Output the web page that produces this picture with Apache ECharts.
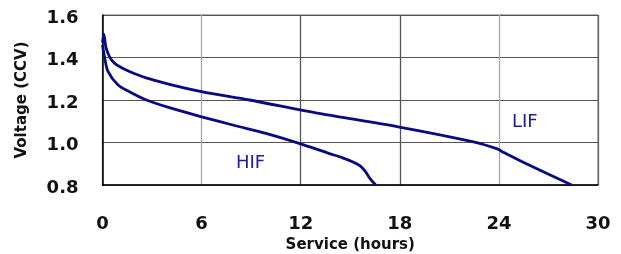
<!DOCTYPE html>
<html>
<head>
<meta charset="utf-8">
<script src="https://cdn.jsdelivr.net/npm/echarts@6/dist/echarts.min.js"></script>
<style>
  html, body { margin: 0; padding: 0; background: #fff; }
  #chart { width: 621px; height: 254px; }
</style>
</head>
<body>
<div id="chart"></div>
<script>
// discharge curves
var lifHours = [0, 0.08, 0.2, 0.33, 0.53, 0.86, 1.34, 2, 2.64, 4, 6, 8.9, 13.1, 17.9, 22.4, 23.9, 24.2, 25.6, 28.4];
var lifVolts = [1.47, 1.51, 1.45, 1.42, 1.39, 1.365, 1.345, 1.322, 1.304, 1.275, 1.239, 1.2, 1.137, 1.074, 1.004, 0.97, 0.957, 0.902, 0.8];

var hifHours = [0, 0.13, 0.33, 0.93, 1.6, 2.66, 4, 6, 8, 9.9, 11.9, 13.7, 14.5, 15.2, 15.6, 15.9, 16.2, 16.54];
var hifVolts = [1.46, 1.40, 1.335, 1.272, 1.24, 1.2, 1.165, 1.121, 1.08, 1.043, 0.996, 0.949, 0.929, 0.907, 0.89, 0.865, 0.83, 0.8];

var xTicks = [0, 6, 12, 18, 24, 30];
var yTicks = [0.8, 1.0, 1.2, 1.4, 1.6];

function pairs(xs, ys) {
  return xs.map(function (x, i) { return [x, ys[i]]; });
}

var chart = echarts.init(document.getElementById('chart'));
var lineColor = '#0a0a80';
var font = 'DejaVu Sans';

var option = {
  animation: false,
  grid: {
    left: 102.5, top: 15, right: 23, bottom: 69,
    outerBoundsMode: 'none',
    show: true, borderColor: '#666', borderWidth: 1
  },
  xAxis: {
    type: 'value',
    min: xTicks[0], max: xTicks[xTicks.length - 1], interval: 6,
    name: 'Service (hours)',
    nameLocation: 'middle', nameGap: 49,
    nameTextStyle: { fontFamily: font, fontWeight: 'bold', fontSize: 15, color: '#111' },
    axisLine: { show: true, lineStyle: { color: '#000', width: 1.5 } },
    axisTick: { show: false },
    axisLabel: { margin: 30, fontFamily: font, fontWeight: 'bold', fontSize: 18, color: '#111' },
    splitLine: { show: true, lineStyle: { color: ['#666', '#aaa', '#555', '#555', '#aaa', '#666'], width: 1.3 } }
  },
  yAxis: {
    type: 'value',
    min: yTicks[0], max: yTicks[yTicks.length - 1], interval: 0.2,
    name: 'Voltage (CCV)',
    nameLocation: 'middle', nameGap: 73, nameRotate: 90,
    nameTextStyle: { fontFamily: font, fontWeight: 'bold', fontSize: 15, color: '#111' },
    axisLine: { show: true, lineStyle: { color: '#000', width: 1.5 } },
    axisTick: { show: false },
    axisLabel: {
      margin: 24, fontFamily: font, fontWeight: 'bold', fontSize: 18, color: '#111',
      formatter: function (v) { return '{t|' + v.toFixed(1) + '}'; },
      rich: { t: { fontFamily: font, fontWeight: 'bold', fontSize: 18, color: '#111', padding: [6, 0, 0, 0] } }
    },
    splitLine: { show: true, lineStyle: { color: '#555', width: 1 } }
  },
  series: [
    {
      name: 'LIF', type: 'line', data: pairs(lifHours, lifVolts),
      showSymbol: false, smooth: 0.3,
      lineStyle: { color: lineColor, width: 2.8 }
    },
    {
      name: 'HIF', type: 'line', data: pairs(hifHours, hifVolts),
      showSymbol: false, smooth: 0.3,
      lineStyle: { color: lineColor, width: 2.8 }
    }
  ],
  graphic: [
    { type: 'text', left: 236, top: 154, style: { text: 'HIF', fill: '#1c1c94', font: '18px "DejaVu Sans"' } },
    { type: 'text', left: 512, top: 113, style: { text: 'LIF', fill: '#1c1c94', font: '18px "DejaVu Sans"' } }
  ]
};
chart.setOption(option);
</script>
</body>
</html>
